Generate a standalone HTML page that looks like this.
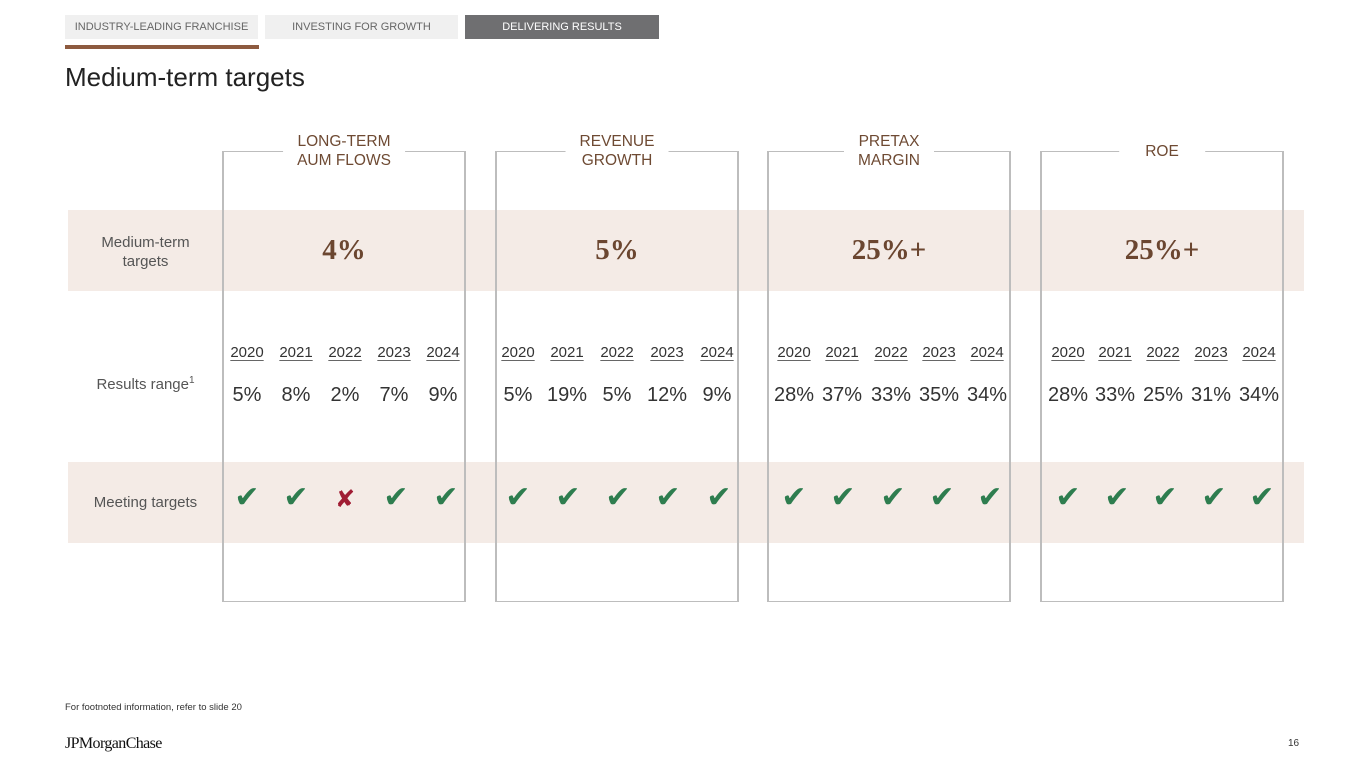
<!DOCTYPE html>
<html><head><meta charset="utf-8"><style>
body{margin:0;width:1365px;height:768px;position:relative;background:#fff;font-family:"Liberation Sans",sans-serif;overflow:hidden}
.a{position:absolute}
.c{position:absolute;transform:translateX(-50%);white-space:nowrap;z-index:3}
.tab{position:absolute;top:15px;height:24px;line-height:24px;text-align:center;font-size:11px;color:#666;background:#f0f0f0}
.band{position:absolute;left:68px;width:1236px;height:81px;background:#f4ebe6;z-index:1}
.box{position:absolute;top:151px;height:451px;width:244px;border:1.5px solid #bdbdbd;box-sizing:border-box;z-index:2}
.vl{position:absolute;top:151px;height:451px;width:2px;background:#bdbdbd;z-index:4}
.hd{position:absolute;top:132px;text-align:center;font-size:15.5px;line-height:19px;color:#6e4a33;background:#fff;padding:0 14px;transform:translateX(-50%);z-index:3}
.big{position:absolute;top:234px;font-family:"Liberation Serif",serif;font-weight:bold;font-size:29px;color:#6b4630;transform:translateX(-50%);z-index:3}
.yr{top:344px;font-size:15px;color:#333;text-decoration:underline;text-underline-offset:3px;text-decoration-color:#666}
.v{top:384px;font-size:20px;color:#333}
.ck{top:480px;font-size:30px;color:#2e7d4f;font-family:"DejaVu Sans",sans-serif}
.x{color:#a01c33;font-size:24px;top:485px}
.lbl{position:absolute;left:68px;width:155px;text-align:center;color:#555;font-size:15px;z-index:3}
</style></head><body>
<div class="tab" style="left:65px;width:193px">INDUSTRY-LEADING FRANCHISE</div>
<div class="tab" style="left:265px;width:193px">INVESTING FOR GROWTH</div>
<div class="tab" style="left:465px;width:194px;background:#6f6f71;color:#fff">DELIVERING RESULTS</div>
<div class="a" style="left:65px;top:45px;width:194px;height:4px;background:#8d5a3f"></div>
<div class="a" style="left:65px;top:62px;font-size:26px;color:#222">Medium-term targets</div>

<div class="band" style="top:210px"></div>
<div class="band" style="top:462px"></div>

<div class="box" style="left:222px"></div>
<div class="box" style="left:495px"></div>
<div class="box" style="left:767px"></div>
<div class="box" style="left:1040px"></div>
<div class="vl" style="left:222px"></div><div class="vl" style="left:464px"></div>
<div class="vl" style="left:495px"></div><div class="vl" style="left:737px"></div>
<div class="vl" style="left:767px"></div><div class="vl" style="left:1009px"></div>
<div class="vl" style="left:1040px"></div><div class="vl" style="left:1282px"></div>

<div class="hd" style="left:344px">LONG-TERM<br>AUM FLOWS</div>
<div class="hd" style="left:617px">REVENUE<br>GROWTH</div>
<div class="hd" style="left:889px">PRETAX<br>MARGIN</div>
<div class="hd" style="left:1162px;top:142px;padding:0 26px">ROE</div>

<div class="lbl" style="top:233px;line-height:19px">Medium-term<br>targets</div>
<div class="lbl" style="top:375px">Results range<sup style="font-size:10px">1</sup></div>
<div class="lbl" style="top:494px">Meeting targets</div>

<div class="big" style="left:344px">4%</div>
<div class="big" style="left:617px">5%</div>
<div class="big" style="left:889px">25%+</div>
<div class="big" style="left:1162px">25%+</div>

<div class="c yr" style="left:247px">2020</div><div class="c yr" style="left:296px">2021</div><div class="c yr" style="left:345px">2022</div><div class="c yr" style="left:394px">2023</div><div class="c yr" style="left:443px">2024</div>
<div class="c v" style="left:247px">5%</div><div class="c v" style="left:296px">8%</div><div class="c v" style="left:345px">2%</div><div class="c v" style="left:394px">7%</div><div class="c v" style="left:443px">9%</div>
<div class="c ck" style="left:247px">✔</div><div class="c ck" style="left:296px">✔</div><div class="c ck x" style="left:345px">✘</div><div class="c ck" style="left:396px">✔</div><div class="c ck" style="left:446px">✔</div>

<div class="c yr" style="left:518px">2020</div><div class="c yr" style="left:567px">2021</div><div class="c yr" style="left:617px">2022</div><div class="c yr" style="left:667px">2023</div><div class="c yr" style="left:717px">2024</div>
<div class="c v" style="left:518px">5%</div><div class="c v" style="left:567px">19%</div><div class="c v" style="left:617px">5%</div><div class="c v" style="left:667px">12%</div><div class="c v" style="left:717px">9%</div>
<div class="c ck" style="left:518px">✔</div><div class="c ck" style="left:568px">✔</div><div class="c ck" style="left:618px">✔</div><div class="c ck" style="left:668px">✔</div><div class="c ck" style="left:719px">✔</div>

<div class="c yr" style="left:794px">2020</div><div class="c yr" style="left:842px">2021</div><div class="c yr" style="left:891px">2022</div><div class="c yr" style="left:939px">2023</div><div class="c yr" style="left:987px">2024</div>
<div class="c v" style="left:794px">28%</div><div class="c v" style="left:842px">37%</div><div class="c v" style="left:891px">33%</div><div class="c v" style="left:939px">35%</div><div class="c v" style="left:987px">34%</div>
<div class="c ck" style="left:794px">✔</div><div class="c ck" style="left:843px">✔</div><div class="c ck" style="left:893px">✔</div><div class="c ck" style="left:942px">✔</div><div class="c ck" style="left:990px">✔</div>

<div class="c yr" style="left:1068px">2020</div><div class="c yr" style="left:1115px">2021</div><div class="c yr" style="left:1163px">2022</div><div class="c yr" style="left:1211px">2023</div><div class="c yr" style="left:1259px">2024</div>
<div class="c v" style="left:1068px">28%</div><div class="c v" style="left:1115px">33%</div><div class="c v" style="left:1163px">25%</div><div class="c v" style="left:1211px">31%</div><div class="c v" style="left:1259px">34%</div>
<div class="c ck" style="left:1068px">✔</div><div class="c ck" style="left:1117px">✔</div><div class="c ck" style="left:1165px">✔</div><div class="c ck" style="left:1214px">✔</div><div class="c ck" style="left:1262px">✔</div>

<div class="a" style="left:65px;top:702px;font-size:9.5px;color:#333">For footnoted information, refer to slide 20</div>
<div class="a" style="left:65px;top:735px;font-family:'Liberation Serif',serif;font-size:16px;letter-spacing:-0.6px;color:#111">JPMorganChase</div>
<div class="a" style="left:1288px;top:738px;font-size:10px;color:#333">16</div>
</body></html>
